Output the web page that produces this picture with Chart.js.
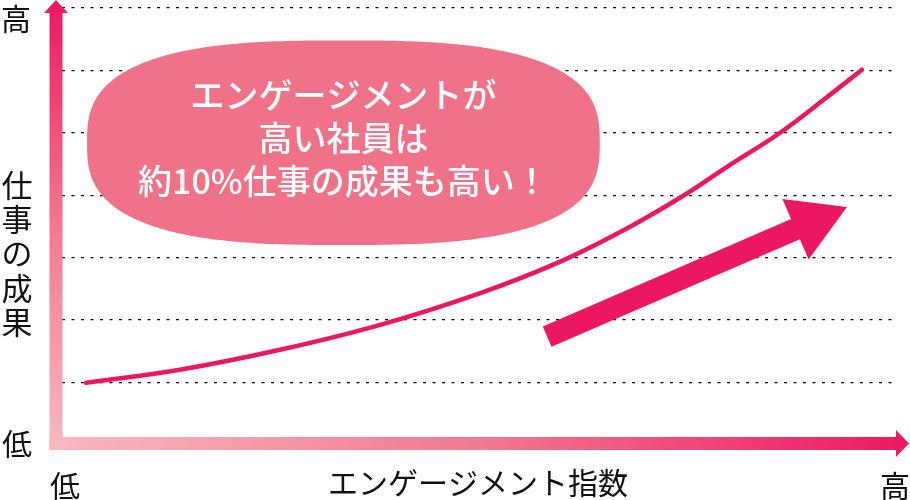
<!DOCTYPE html>
<html lang="ja">
<head>
<meta charset="utf-8">
<script src="https://cdn.jsdelivr.net/npm/chart.js@4.4.1/dist/chart.umd.min.js"></script>
<style>
  html, body { margin: 0; padding: 0; background: #fff; }
  #wrap { width: 910px; height: 500px; position: relative; }
</style>
</head>
<body>
<div id="wrap"><canvas id="c" width="910" height="500"></canvas></div>
<script>
// ---- data ----
const engagementIndex = [2.9, 14.1, 26.1, 38.1, 50.1, 59.6, 67.7, 74.4, 79.6, 86.0, 91.6, 95.8];
const workOutcome = [0.99, 1.20, 1.52, 1.92, 2.43, 2.93, 3.47, 3.99, 4.45, 5.00, 5.57, 6.01];
const gridTicks = [1, 2, 3, 4, 5, 6, 7];
const calloutLines = ['エンゲージメントが', '高い社員は', '約10%仕事の成果も高い！'];
const yAxisTitle = ['仕', '事', 'の', '成', '果'];
const xAxisTitle = 'エンゲージメント指数';
const lowLabel = '低';
const highLabel = '高';
// trend arrow (data units): tail and tip
const trendTail = [58.1, 1.73];
const trendTip = [94.0, 3.81];
// callout bubble (data units): center and half extents
const bubbleCenter = [33.7, 4.84];
const bubbleHalf = [30.7, 1.64];

const PINK = '#ec1763';
const BUBBLE = '#f07289';
const FONT = '"Noto Sans CJK JP", "Noto Sans", sans-serif';

const decor = {
  id: 'decor',
  beforeDatasetsDraw(chart) {
    const ctx = chart.ctx, xs = chart.scales.x, ys = chart.scales.y;
    // bubble as superellipse
    const cx = xs.getPixelForValue(bubbleCenter[0]);
    const cy = ys.getPixelForValue(bubbleCenter[1]);
    const a = xs.getPixelForValue(bubbleCenter[0] + bubbleHalf[0]) - cx;
    const b = cy - ys.getPixelForValue(bubbleCenter[1] + bubbleHalf[1]);
    const n = 2.8;
    ctx.save();
    ctx.beginPath();
    for (let i = 0; i <= 360; i++) {
      const t = i / 360 * Math.PI * 2;
      const c = Math.cos(t), s = Math.sin(t);
      const px = cx + a * Math.sign(c) * Math.pow(Math.abs(c), 2 / n);
      const py = cy + b * Math.sign(s) * Math.pow(Math.abs(s), 2 / n);
      if (i === 0) ctx.moveTo(px, py); else ctx.lineTo(px, py);
    }
    ctx.closePath();
    ctx.fillStyle = BUBBLE;
    ctx.fill();
    ctx.fillStyle = '#fff';
    ctx.font = '500 34px ' + FONT;
    ctx.textAlign = 'center';
    ctx.textBaseline = 'middle';
    const lineGap = 43;
    calloutLines.forEach((ln, i) => {
      ctx.fillText(ln, cx, cy - lineGap * 1.1 + i * lineGap);
    });
    ctx.restore();
  },
  afterDatasetsDraw(chart) {
    const ctx = chart.ctx, xs = chart.scales.x, ys = chart.scales.y, ca = chart.chartArea;
    // big trend arrow
    const x0 = xs.getPixelForValue(trendTail[0]), y0 = ys.getPixelForValue(trendTail[1]);
    const x1 = xs.getPixelForValue(trendTip[0]), y1 = ys.getPixelForValue(trendTip[1]);
    const len = Math.hypot(x1 - x0, y1 - y0);
    const ux = (x1 - x0) / len, uy = (y1 - y0) / len;
    const px = -uy, py = ux;
    const sw = 11, hw = 33, hl = 56;
    const bx = x1 - ux * hl, by = y1 - uy * hl;
    ctx.save();
    ctx.beginPath();
    ctx.moveTo(x0 + px * sw, y0 + py * sw);
    ctx.lineTo(bx + px * sw, by + py * sw);
    ctx.lineTo(bx + px * hw, by + py * hw);
    ctx.lineTo(x1, y1);
    ctx.lineTo(bx - px * hw, by - py * hw);
    ctx.lineTo(bx - px * sw, by - py * sw);
    ctx.lineTo(x0 - px * sw, y0 - py * sw);
    ctx.closePath();
    ctx.fillStyle = PINK;
    ctx.fill();

    // axis arrows
    const ax = ca.left - 6;        // y-axis shaft center
    const ay = ca.bottom - 1;      // x-axis shaft center
    const half = 6.5;
    // y axis
    let g = ctx.createLinearGradient(0, ay + half, 0, 0);
    g.addColorStop(0, '#f9b9c1');
    g.addColorStop(0.5, '#f2798f');
    g.addColorStop(1, '#ec1763');
    ctx.fillStyle = g;
    ctx.beginPath();
    ctx.moveTo(ax - half, ay + half);
    ctx.lineTo(ax - half, 13);
    ctx.lineTo(ax - 12, 13);
    ctx.lineTo(ax, 0);
    ctx.lineTo(ax + 12, 13);
    ctx.lineTo(ax + half, 13);
    ctx.lineTo(ax + half, ay + half);
    ctx.closePath();
    ctx.fill();
    // x axis
    g = ctx.createLinearGradient(ax - half, 0, 910, 0);
    g.addColorStop(0, '#f9b9c1');
    g.addColorStop(0.5, '#f2798f');
    g.addColorStop(1, '#ec1763');
    ctx.fillStyle = g;
    ctx.beginPath();
    ctx.moveTo(ax - half, ay - half);
    ctx.lineTo(896, ay - half);
    ctx.lineTo(896, ay - 13.5);
    ctx.lineTo(909, ay);
    ctx.lineTo(896, ay + 13.5);
    ctx.lineTo(896, ay + half);
    ctx.lineTo(ax - half, ay + half);
    ctx.closePath();
    ctx.fill();

    // labels
    ctx.fillStyle = '#111';
    ctx.textAlign = 'center';
    ctx.textBaseline = 'middle';
    ctx.font = '400 30px ' + FONT;
    ctx.fillText(highLabel, 16, 19);
    ctx.fillText(lowLabel, 17, 444);
    ctx.fillText(lowLabel, 65, 486);
    ctx.fillText(highLabel, 895, 486);
    ctx.fillText(xAxisTitle, 478, 483);
    ctx.font = '400 31px ' + FONT;
    yAxisTitle.forEach((ch, i) => ctx.fillText(ch, 17, 185 + i * 34.3));
    ctx.restore();
  }
};

new Chart(document.getElementById('c'), {
  type: 'line',
  data: {
    labels: engagementIndex,
    datasets: [{
      data: engagementIndex.map((x, i) => ({ x, y: workOutcome[i] })),
      borderColor: PINK,
      borderWidth: 4.5,
      pointRadius: 0,
      tension: 0.4,
      borderCapStyle: 'round',
      fill: false
    }]
  },
  options: {
    responsive: false,
    animation: false,
    devicePixelRatio: 1,
    layout: { padding: { left: 62, right: 13, top: 8, bottom: 55.4 } },
    plugins: { legend: { display: false }, tooltip: { enabled: false } },
    scales: {
      x: { type: 'linear', min: 0, max: 100, display: false },
      y: {
        type: 'linear', min: 0, max: 7,
        afterFit(s) { s.width = 0; },
        afterBuildTicks(s) { s.ticks = gridTicks.map(v => ({ value: v })); },
        ticks: { display: false },
        grid: { color: '#000', lineWidth: 1.2, drawTicks: false },
        border: { display: false, dash: [3, 6.5] }
      }
    }
  },
  plugins: [decor]
});
</script>
</body>
</html>
